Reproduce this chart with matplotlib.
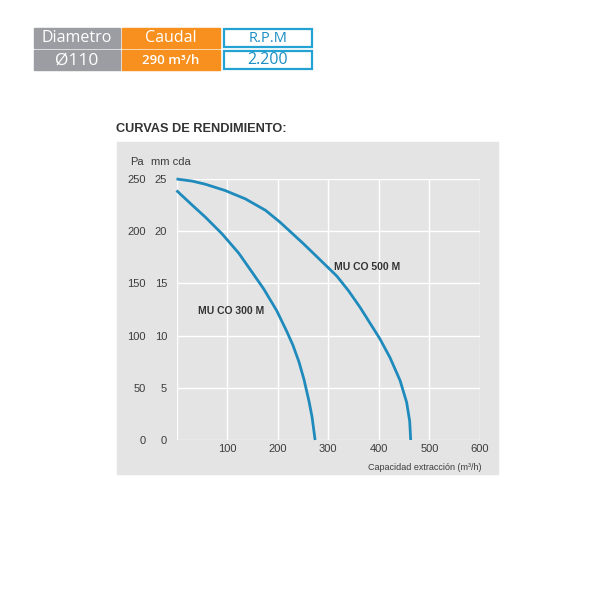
import matplotlib.pyplot as plt
from matplotlib.patches import Rectangle

# curve readings (caudal m3/h, presion Pa)
q_300 = [0, 31, 57, 90, 123, 149, 172, 198, 218, 230, 242, 252, 262, 268, 274]
p_300 = [239, 225, 213.5, 197.5, 179, 161, 145, 124, 104, 91, 75, 58, 37, 22, 0]
q_500 = [0, 31, 57, 96, 136, 176, 205, 251, 283, 317, 340, 363, 389, 402, 422, 442, 455, 461, 463]
p_500 = [250, 248, 245, 239, 231, 220, 208.5, 188, 173, 157, 143, 127, 107, 97, 79, 57, 36, 18, 0]

x_ticks = [100, 200, 300, 400, 500, 600]
pa_ticks = [0, 50, 100, 150, 200, 250]

header_top = ['Diametro', 'Caudal', 'R.P.M']
header_bottom = ['Ø110', '290 m³/h', '2.200']

blue = '#1f8bbd'
orange = '#f7901e'
grey_cell = '#9c9da2'
panel = '#e4e4e4'
txt = '#3c3c3c'

fig = plt.figure(figsize=(6, 6), dpi=100)

# background layer in pixel coords
bg = fig.add_axes([0, 0, 1, 1])
bg.set_xlim(0, 600)
bg.set_ylim(600, 0)
bg.axis('off')

# header table
cols = [(34, 86), (122, 98), (223, 90)]
rows = [(28, 19.5), (50, 19.5)]
sizes = [[11.5, 11.5, 10.5], [12.5, 9.5, 11.5]]
weights = [['normal', 'normal', 'normal'], ['normal', 'semibold', 'normal']]
for r, (ry, rh) in enumerate(rows):
    labels = header_top if r == 0 else header_bottom
    for c, (cx, cw) in enumerate(cols):
        if c == 0:
            bg.add_patch(Rectangle((cx, ry), cw, rh, color=grey_cell))
            col = 'white'
        elif c == 1:
            bg.add_patch(Rectangle((cx, ry), cw, rh, color=orange))
            col = 'white'
        else:
            bg.add_patch(Rectangle((cx + 1, ry + 1), cw - 2, rh - 2, facecolor='white',
                                   edgecolor='#23a3d3', lw=1.6))
            col = '#1c8fc4'
        bg.text(cx + cw / 2, ry + rh / 2 + 0.5, labels[c], color=col, fontsize=sizes[r][c],
                fontweight=weights[r][c], ha='center', va='center', family='Open Sans')

bg.text(116, 129, 'CURVAS DE RENDIMIENTO:', fontsize=9.2, fontweight='bold',
        color='#333333', va='center', ha='left', family='Liberation Sans')
bg.add_patch(Rectangle((117, 142), 381, 332, color=panel))
bg.text(137, 162, 'Pa', fontsize=8, color=txt, ha='center', va='center', family='Liberation Sans')
bg.text(151, 162, 'mm cda', fontsize=8, color=txt, ha='left', va='center', family='Liberation Sans')
bg.text(482, 468, 'Capacidad extracción (m³/h)', fontsize=6.5, color=txt, ha='right',
        va='center', family='Liberation Sans')

# chart
ax = fig.add_axes([176.5 / 600, 160 / 600, 303.5 / 600, 261 / 600])
ax.set_facecolor('none')
ax.set_xlim(0, 600)
ax.set_ylim(0, 250)
for s in ax.spines.values():
    s.set_visible(False)
ax.set_xticks([0] + x_ticks)
ax.set_xticklabels([''] + [str(v) for v in x_ticks])
ax.set_yticks(pa_ticks)
ax.set_yticklabels([str(v) for v in pa_ticks])
ax.grid(True, color='white', lw=1.0)
ax.set_axisbelow(True)
ax.tick_params(length=0, labelsize=8, labelcolor=txt)
ax.tick_params(axis='x', pad=3)
ax.tick_params(axis='y', pad=22)
for lab in ax.get_xticklabels() + ax.get_yticklabels():
    lab.set_family('Liberation Sans')

mm = ax.secondary_yaxis('left', functions=(lambda p: p / 10, lambda m: m * 10))
mm.set_yticks([0, 5, 10, 15, 20, 25])
mm.tick_params(length=0, labelsize=8, labelcolor=txt, pad=6.8)
mm.spines['left'].set_visible(False)
for lab in mm.get_yticklabels():
    lab.set_family('Liberation Sans')

ax.plot(q_300, p_300, color=blue, lw=2, clip_on=False, solid_capstyle='butt',
        solid_joinstyle='round')
ax.plot(q_500, p_500, color=blue, lw=2, clip_on=False, solid_capstyle='butt',
        solid_joinstyle='round')
ax.text(42, 124, 'MU CO 300 M', fontsize=7.5, fontweight='bold', color='#333333',
        va='center', family='Liberation Sans')
ax.text(311, 166, 'MU CO 500 M', fontsize=7.5, fontweight='bold', color='#333333',
        va='center', family='Liberation Sans')

fig.savefig('out.png', dpi=100)
